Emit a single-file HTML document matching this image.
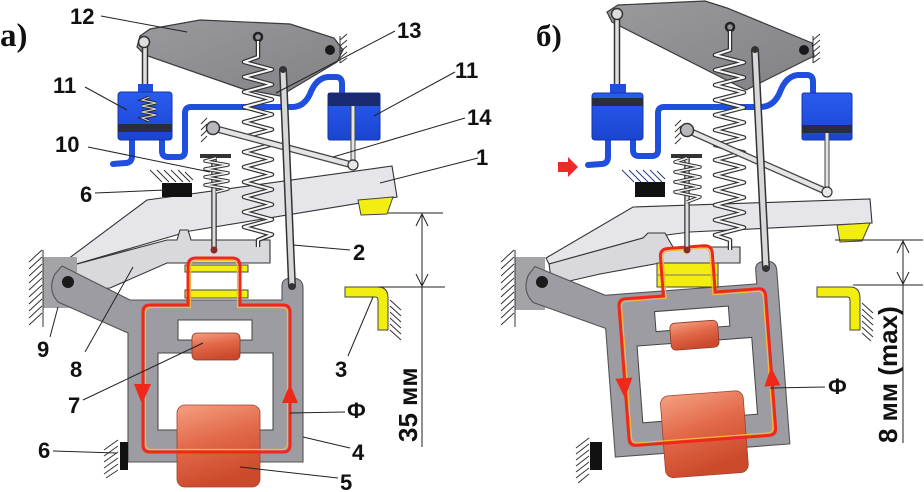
<!DOCTYPE html>
<html><head><meta charset="utf-8"><style>html,body{margin:0;padding:0;background:#fff}svg{display:block}</style></head>
<body>
<svg width="924" height="492" viewBox="0 0 924 492" xmlns="http://www.w3.org/2000/svg">
<defs>
<linearGradient id="coil" x1="0" y1="0" x2="0.3" y2="1">
<stop offset="0" stop-color="#f4a080"/><stop offset="0.5" stop-color="#e2694a"/><stop offset="1" stop-color="#cc4a2c"/>
</linearGradient>
<linearGradient id="plate" x1="0" y1="0" x2="1" y2="1">
<stop offset="0" stop-color="#9a9a9e"/><stop offset="1" stop-color="#828286"/>
</linearGradient>
<linearGradient id="blue" x1="0" y1="0" x2="0" y2="1">
<stop offset="0" stop-color="#2a5cf0"/><stop offset="1" stop-color="#1a44d0"/>
</linearGradient>
</defs>

<!-- ================= PANEL A ================= -->
<text x="0" y="46" font-family="'Liberation Serif',serif" font-weight="bold" font-size="33" fill="#111">а)</text>

<polygon points="140,36 150,29 200,20 290,24 334,38 343,50 337,62 280,96 243,89 145,55 137,47" fill="url(#plate)" stroke="#3a3a3a" stroke-width="1.2"/>
<circle cx="330" cy="50" r="5" fill="#1a1a1a"/>
<g stroke="#333" stroke-width="1">
<line x1="340" y1="36" x2="340" y2="63"/>
<line x1="340" y1="40" x2="347" y2="34"/><line x1="340" y1="46" x2="347" y2="40"/><line x1="340" y1="52" x2="347" y2="46"/><line x1="340" y1="58" x2="347" y2="52"/><line x1="340" y1="63" x2="347" y2="58"/>
</g>

<line x1="145" y1="43" x2="145" y2="118" stroke="#333" stroke-width="6.5" stroke-linecap="round"/>
<line x1="145" y1="43" x2="145" y2="118" stroke="#e0e0e0" stroke-width="3.5" stroke-linecap="round"/>
<circle cx="144" cy="42" r="5.5" fill="#ddd" stroke="#333" stroke-width="1.5"/>

<g fill="none" stroke="#1f4fdc" stroke-width="6" stroke-linecap="round" stroke-linejoin="round">
<path d="M132,138 L132,156 Q132,163 125,163 L113,164"/>
<path d="M162,138 L162,151 Q162,157 168,157 L179,157 Q185,157 185,151 L185,113 Q185,107 191,107 L292,107 Q304,107 310,94 Q316,78 328,77 L336,77 Q342,77 342,84 L342,95"/>
</g>

<rect x="138" y="84" width="15" height="10" fill="#1f4fdc"/>
<rect x="118" y="92" width="54" height="48" rx="3" fill="url(#blue)" stroke="#1436a8" stroke-width="1"/>
<rect x="118" y="124" width="54" height="8" fill="#2a2d40"/>
<polyline points="149,97 142,100 156,103 142,106 156,109 142,112 156,115 142,118 149,121" fill="none" stroke="#222" stroke-width="3"/>
<polyline points="149,97 142,100 156,103 142,106 156,109 142,112 156,115 142,118 149,121" fill="none" stroke="#ccc" stroke-width="1.2"/>

<rect x="328" y="93" width="52" height="47" rx="2" fill="url(#blue)" stroke="#1436a8" stroke-width="1"/>
<rect x="328" y="93" width="52" height="13" fill="#1a2a70"/>
<line x1="353" y1="106" x2="353" y2="162" stroke="#444" stroke-width="5"/>
<line x1="353" y1="106" x2="353" y2="162" stroke="#e4e4e4" stroke-width="3"/>

<polygon points="64,262 147,200 392,166 397,197 190,231 66,267" fill="#e6e6ea" stroke="#333" stroke-width="1.1"/>
<polygon points="358,200 393,197 387,214 361,215" fill="#f2ee10" stroke="#444" stroke-width="1"/>
<polygon points="66,267 167,240 177,240 180,230 188,230 191,240 270,240 270,263 167,263 110,288 70,292" fill="#d9d9dd" stroke="#333" stroke-width="1.1"/>
<rect x="185" y="265" width="63" height="7" fill="#f2ee10" stroke="#444" stroke-width="1"/>

<rect x="43" y="257" width="34" height="51" fill="#a4a4a8"/>
<g stroke="#333" stroke-width="1">
<line x1="43" y1="250" x2="43" y2="327"/>
<line x1="29" y1="262" x2="42" y2="250"/><line x1="29" y1="269" x2="42" y2="257"/><line x1="29" y1="276" x2="42" y2="264"/><line x1="29" y1="283" x2="42" y2="271"/><line x1="29" y1="290" x2="42" y2="278"/><line x1="29" y1="297" x2="42" y2="285"/><line x1="29" y1="304" x2="42" y2="292"/><line x1="29" y1="311" x2="42" y2="299"/><line x1="29" y1="318" x2="42" y2="306"/><line x1="29" y1="325" x2="42" y2="313"/>
</g>

<g>
<path d="M62,266 L130,300 L282,300 L282,286 Q282,278 292,278 Q303,278 303,288 L303,462 L128,462 L128,333 L58,302 Q47,290 55,274 Z" fill="#9c9ca2" stroke="#555" stroke-width="1.1"/>
<rect x="178" y="320" width="74" height="20" fill="#fff" stroke="#444" stroke-width="1"/>
<rect x="158" y="353" width="115" height="77" fill="#fff" stroke="#444" stroke-width="1"/>
<rect x="192" y="333" width="48" height="27" rx="5" fill="url(#coil)" stroke="#8a3a25" stroke-width="0.8"/>
<rect x="177" y="405" width="83" height="82" rx="8" fill="url(#coil)" stroke="#a04030" stroke-width="0.8"/>
<circle cx="68" cy="282" r="6" fill="#1a1a1a"/>
</g>
<rect x="185" y="290" width="63" height="8" fill="#f2ee10" stroke="#444" stroke-width="1"/>

<path d="M143,445 L143,312 Q143,305 150,305 L188,305 L188,266 Q188,258 196,258 L232,258 Q240,258 240,266 L240,305 L283,305 Q290,305 290,312 L290,445 Q290,452 283,452 L150,452 Q143,452 143,445 Z" fill="none" stroke="#f0281a" stroke-width="3"/>
<path d="M145.5,443 L145.5,313 Q145.5,307.5 151,307.5 L190.5,307.5 L190.5,267 Q190.5,260.5 197,260.5 L231,260.5 Q237.5,260.5 237.5,267 L237.5,307.5 L282,307.5 Q287.5,307.5 287.5,313 L287.5,443 Q287.5,449.5 282,449.5 L151,449.5 Q145.5,449.5 145.5,443 Z" fill="none" stroke="#f7b838" stroke-width="1.2"/>
<polygon points="134,384 151,384 142,404" fill="#f0281a"/>
<polygon points="282,403 298,403 290,384" fill="#f0281a"/>

<rect x="120" y="442" width="8" height="28" fill="#111"/>
<g stroke="#333" stroke-width="1">
<line x1="104" y1="450" x2="118" y2="440"/><line x1="104" y1="456" x2="118" y2="446"/><line x1="104" y1="462" x2="118" y2="452"/><line x1="104" y1="468" x2="118" y2="458"/><line x1="104" y1="474" x2="118" y2="464"/><line x1="106" y1="478" x2="118" y2="470"/>
</g>

<path d="M345,287 L378,287 Q388,287 388,298 L388,330 L378,330 L378,300 Q378,297 375,297 L345,297 Z" fill="#f2ee10" stroke="#444" stroke-width="1"/>
<g stroke="#333" stroke-width="1">
<line x1="390" y1="300" x2="401" y2="310"/><line x1="390" y1="306" x2="401" y2="316"/><line x1="390" y1="312" x2="401" y2="322"/><line x1="390" y1="318" x2="401" y2="328"/><line x1="390" y1="324" x2="401" y2="334"/><line x1="390" y1="330" x2="401" y2="340"/>
</g>

<rect x="162" y="183" width="30" height="14" fill="#111"/>
<g stroke="#333" stroke-width="1">
<line x1="150" y1="170" x2="162" y2="182"/><line x1="157" y1="170" x2="169" y2="182"/><line x1="164" y1="170" x2="176" y2="182"/><line x1="171" y1="170" x2="183" y2="182"/><line x1="178" y1="170" x2="190" y2="182"/><line x1="185" y1="172" x2="193" y2="180"/>
</g>

<line x1="214" y1="156" x2="214" y2="249" stroke="#333" stroke-width="5.5"/>
<line x1="214" y1="156" x2="214" y2="249" stroke="#ddd" stroke-width="3"/>
<circle cx="214" cy="250" r="3.5" fill="#8a2a2a"/>
<rect x="200" y="154" width="31" height="4" fill="#333"/>
<polyline points="216,158 205,161 228,165 205,169 228,173 205,177 228,181 205,185 228,189 216,192" fill="none" stroke="#333" stroke-width="3.5" stroke-linejoin="round"/>
<polyline points="216,158 205,161 228,165 205,169 228,173 205,177 228,181 205,185 228,189 216,192" fill="none" stroke="#f4f4f4" stroke-width="1.5" stroke-linejoin="round"/>

<circle cx="258" cy="37" r="4" fill="none" stroke="#222" stroke-width="2.5"/>
<polyline points="258,41 258,57 244,62 272,69.5 244,77 272,84.5 244,92 272,99.5 244,107 272,114.5 244,122 272,129.5 244,137 272,144.5 244,152 272,159.5 244,167 272,174.5 244,182 272,189.5 244,197 272,204.5 244,212 272,219.5 244,227 272,234.5 258,240 258,247" fill="none" stroke="#333" stroke-width="4.5" stroke-linejoin="round"/>
<polyline points="258,41 258,57 244,62 272,69.5 244,77 272,84.5 244,92 272,99.5 244,107 272,114.5 244,122 272,129.5 244,137 272,144.5 244,152 272,159.5 244,167 272,174.5 244,182 272,189.5 244,197 272,204.5 244,212 272,219.5 244,227 272,234.5 258,240 258,247" fill="none" stroke="#f6f6f6" stroke-width="2" stroke-linejoin="round"/>

<line x1="213" y1="128" x2="352" y2="165" stroke="#444" stroke-width="7" stroke-linecap="round"/>
<line x1="213" y1="128" x2="352" y2="165" stroke="#e4e4e4" stroke-width="4.5" stroke-linecap="round"/>
<g stroke="#333" stroke-width="1">
<line x1="201" y1="124" x2="207" y2="118"/><line x1="201" y1="130" x2="207" y2="124"/><line x1="201" y1="136" x2="207" y2="130"/><line x1="201" y1="142" x2="207" y2="136"/>
</g>
<circle cx="213" cy="128" r="6.5" fill="#b8b8bc" stroke="#333" stroke-width="1.5"/>
<circle cx="353" cy="165" r="5" fill="#e8e8e8" stroke="#333" stroke-width="1.2"/>

<line x1="283" y1="70" x2="292" y2="286" stroke="#333" stroke-width="8" stroke-linecap="round"/>
<line x1="283" y1="70" x2="292" y2="286" stroke="#d8d8da" stroke-width="5" stroke-linecap="round"/>
<circle cx="283" cy="70" r="3" fill="#333"/>
<circle cx="292" cy="286" r="3" fill="#333"/>

<g stroke="#222" stroke-width="1" fill="none">
<line x1="388" y1="213" x2="443" y2="213"/>
<line x1="378" y1="287" x2="445" y2="287"/>
<line x1="422" y1="213" x2="422" y2="447"/>
<polyline points="416,226 422,214 428,226"/>
<polyline points="416,274 422,286 428,274"/>
</g>
<text transform="translate(417,442) rotate(-90)" font-family="'Liberation Sans','Noto Sans CJK SC',sans-serif" font-weight="bold" font-size="26" fill="#111">35 мм</text>

<g stroke="#222" stroke-width="1">
<line x1="101" y1="16" x2="187" y2="32"/>
<line x1="395" y1="31" x2="276" y2="93"/>
<line x1="85" y1="87" x2="127" y2="110"/>
<line x1="455" y1="72" x2="374" y2="116"/>
<line x1="465" y1="118" x2="333" y2="157"/>
<line x1="478" y1="158" x2="380" y2="183"/>
<line x1="88" y1="147" x2="210" y2="172"/>
<line x1="95" y1="193" x2="165" y2="190"/>
<line x1="350" y1="250" x2="293" y2="245"/>
<line x1="50" y1="337" x2="58" y2="307"/>
<line x1="85" y1="352" x2="133" y2="267"/>
<line x1="83" y1="400" x2="203" y2="343"/>
<line x1="348" y1="356" x2="373" y2="297"/>
<line x1="345" y1="412" x2="290" y2="413"/>
<line x1="350" y1="448" x2="303" y2="437"/>
<line x1="53" y1="451" x2="117" y2="453"/>
<line x1="338" y1="478" x2="240" y2="467"/>
</g>

<g font-family="'Liberation Sans','Noto Sans CJK SC',sans-serif" font-weight="bold" font-size="22" fill="#111">
<text x="70" y="24">12</text>
<text x="397" y="38">13</text>
<text x="53" y="93">11</text>
<text x="455" y="78">11</text>
<text x="467" y="125">14</text>
<text x="55" y="152">10</text>
<text x="476" y="165">1</text>
<text x="80" y="202">6</text>
<text x="353" y="260">2</text>
<text x="37" y="357">9</text>
<text x="70" y="377">8</text>
<text x="335" y="377">3</text>
<text x="68" y="413">7</text>
<text x="347" y="418">Ф</text>
<text x="352" y="460">4</text>
<text x="38" y="458">6</text>
<text x="340" y="490">5</text>
</g>

<!-- ================= PANEL B ================= -->
<text x="536" y="46" font-family="'Liberation Serif',serif" font-weight="bold" font-size="31" fill="#111">б)</text>

<polygon points="607,12 618,5 705,1 727,8 812,43 814,56 806,60 746,90 612,22" fill="url(#plate)" stroke="#3a3a3a" stroke-width="1.2"/>
<circle cx="804" cy="50" r="5" fill="#1a1a1a"/>
<g stroke="#333" stroke-width="1">
<line x1="813" y1="36" x2="813" y2="63"/>
<line x1="813" y1="40" x2="820" y2="34"/><line x1="813" y1="46" x2="820" y2="40"/><line x1="813" y1="52" x2="820" y2="46"/><line x1="813" y1="58" x2="820" y2="52"/><line x1="813" y1="63" x2="820" y2="58"/>
</g>

<line x1="617" y1="15" x2="617" y2="99" stroke="#333" stroke-width="6.5" stroke-linecap="round"/>
<line x1="617" y1="15" x2="617" y2="99" stroke="#e0e0e0" stroke-width="3.5" stroke-linecap="round"/>
<circle cx="617" cy="14" r="5.5" fill="#ddd" stroke="#333" stroke-width="1.5"/>

<g fill="none" stroke="#1f4fdc" stroke-width="6" stroke-linecap="round" stroke-linejoin="round">
<path d="M608,138 L608,157 Q608,164 601,164 L588,165"/>
<path d="M633,138 L633,150 Q633,156 639,156 L652,156 Q658,156 658,150 L658,113 Q658,107 664,107 L760,107 Q774,107 780,92 Q786,76 798,75 L807,75 Q813,75 813,82 L813,95"/>
</g>
<polygon points="558,162 568,162 568,157 578,167 568,177 568,172 558,172" fill="#f02828"/>

<rect x="610" y="84" width="16" height="10" fill="#1f4fdc"/>
<rect x="592" y="93" width="51" height="47" rx="3" fill="url(#blue)" stroke="#1436a8" stroke-width="1"/>
<rect x="592" y="98" width="51" height="8" fill="#2a2d40"/>

<rect x="802" y="93" width="50" height="47" rx="2" fill="url(#blue)" stroke="#1436a8" stroke-width="1"/>
<rect x="802" y="125" width="50" height="8" fill="#2a2d40"/>
<line x1="827" y1="133" x2="827" y2="188" stroke="#444" stroke-width="5"/>
<line x1="827" y1="133" x2="827" y2="188" stroke="#e4e4e4" stroke-width="3"/>

<polygon points="546,258 633,207 870,199 872,223 690,232 643,238 549,264" fill="#e6e6ea" stroke="#333" stroke-width="1.1"/>
<polygon points="837,225 870,223 862,241 840,242" fill="#f2ee10" stroke="#444" stroke-width="1"/>
<polygon points="549,264 643,238 648,233 665,233 670,242 673,247 740,247 740,263 660,263 600,274 552,285" fill="#d9d9dd" stroke="#333" stroke-width="1.1"/>

<rect x="515" y="257" width="30" height="53" fill="#a4a4a8"/>
<g stroke="#333" stroke-width="1">
<line x1="515" y1="250" x2="515" y2="327"/>
<line x1="501" y1="262" x2="514" y2="250"/><line x1="501" y1="269" x2="514" y2="257"/><line x1="501" y1="276" x2="514" y2="264"/><line x1="501" y1="283" x2="514" y2="271"/><line x1="501" y1="290" x2="514" y2="278"/><line x1="501" y1="297" x2="514" y2="285"/><line x1="501" y1="304" x2="514" y2="292"/><line x1="501" y1="311" x2="514" y2="299"/><line x1="501" y1="318" x2="514" y2="306"/><line x1="501" y1="325" x2="514" y2="313"/>
</g>

<g transform="translate(474,0) rotate(-4.3 68 282)">
<path d="M62,266 L130,300 L282,300 L282,286 Q282,278 292,278 Q303,278 303,288 L303,462 L128,462 L128,333 L58,302 Q47,290 55,274 Z" fill="#9c9ca2" stroke="#555" stroke-width="1.1"/>
<rect x="178" y="320" width="74" height="20" fill="#fff" stroke="#444" stroke-width="1"/>
<rect x="158" y="353" width="115" height="77" fill="#fff" stroke="#444" stroke-width="1"/>
<rect x="192" y="333" width="48" height="27" rx="5" fill="url(#coil)" stroke="#8a3a25" stroke-width="0.8"/>
<rect x="177" y="405" width="83" height="82" rx="8" fill="url(#coil)" stroke="#a04030" stroke-width="0.8"/>
<circle cx="68" cy="282" r="6" fill="#1a1a1a"/>
</g>
<rect x="657" y="263" width="61" height="24" fill="#f2ee10" stroke="#444" stroke-width="1"/>
<line x1="657" y1="275" x2="718" y2="275" stroke="#777" stroke-width="1"/>
<g transform="translate(474,0) rotate(-4.3 68 282)">
<path d="M143,445 L143,312 Q143,305 150,305 L188,305 L188,266 Q188,258 196,258 L232,258 Q240,258 240,266 L240,305 L283,305 Q290,305 290,312 L290,445 Q290,452 283,452 L150,452 Q143,452 143,445 Z" fill="none" stroke="#f0281a" stroke-width="3"/>
<path d="M145.5,443 L145.5,313 Q145.5,307.5 151,307.5 L190.5,307.5 L190.5,267 Q190.5,260.5 197,260.5 L231,260.5 Q237.5,260.5 237.5,267 L237.5,307.5 L282,307.5 Q287.5,307.5 287.5,313 L287.5,443 Q287.5,449.5 282,449.5 L151,449.5 Q145.5,449.5 145.5,443 Z" fill="none" stroke="#f7b838" stroke-width="1.2"/>
<polygon points="134,384 151,384 142,404" fill="#f0281a"/>
<polygon points="282,403 298,403 290,384" fill="#f0281a"/>
</g>

<rect x="590" y="442" width="12" height="28" fill="#111"/>
<g stroke="#333" stroke-width="1">
<line x1="576" y1="448" x2="589" y2="438"/><line x1="576" y1="454" x2="589" y2="444"/><line x1="576" y1="460" x2="589" y2="450"/><line x1="576" y1="466" x2="589" y2="456"/><line x1="576" y1="472" x2="589" y2="462"/><line x1="576" y1="478" x2="589" y2="468"/><line x1="578" y1="483" x2="589" y2="474"/>
</g>

<path d="M817,287 L850,287 Q860,287 860,298 L860,330 L850,330 L850,300 Q850,297 847,297 L817,297 Z" fill="#f2ee10" stroke="#444" stroke-width="1"/>
<g stroke="#333" stroke-width="1">
<line x1="862" y1="303" x2="873" y2="313"/><line x1="862" y1="309" x2="873" y2="319"/><line x1="862" y1="315" x2="873" y2="325"/><line x1="862" y1="321" x2="873" y2="331"/><line x1="862" y1="327" x2="873" y2="337"/><line x1="862" y1="333" x2="871" y2="341"/>
</g>

<rect x="635" y="182" width="30" height="15" fill="#111"/>
<g stroke="#2a3a8a" stroke-width="1">
<line x1="622" y1="170" x2="634" y2="182"/><line x1="629" y1="170" x2="641" y2="182"/><line x1="636" y1="170" x2="648" y2="182"/><line x1="643" y1="170" x2="655" y2="182"/><line x1="650" y1="170" x2="662" y2="182"/><line x1="657" y1="171" x2="665" y2="179"/>
</g>

<line x1="687" y1="156" x2="687" y2="249" stroke="#333" stroke-width="5.5"/>
<line x1="687" y1="156" x2="687" y2="249" stroke="#ddd" stroke-width="3"/>
<circle cx="687" cy="250" r="3.5" fill="#8a2a2a"/>
<rect x="671" y="154" width="31" height="4" fill="#333"/>
<polyline points="687,158 675,162 700,167 675,172 700,177 675,182 700,187 675,192 700,197 687,202" fill="none" stroke="#333" stroke-width="3.5" stroke-linejoin="round"/>
<polyline points="687,158 675,162 700,167 675,172 700,177 675,182 700,187 675,192 700,197 687,202" fill="none" stroke="#f4f4f4" stroke-width="1.5" stroke-linejoin="round"/>

<circle cx="730" cy="27" r="4" fill="none" stroke="#222" stroke-width="2.5"/>
<polyline points="730,31 730,50 715,55 744,62.5 715,70 744,77.5 715,85 744,92.5 715,100 744,107.5 715,115 744,122.5 715,130 744,137.5 715,145 744,152.5 715,160 744,167.5 715,175 744,182.5 715,190 744,197.5 715,205 744,212.5 715,220 744,227.5 715,235 730,240 730,250" fill="none" stroke="#333" stroke-width="4.5" stroke-linejoin="round"/>
<polyline points="730,31 730,50 715,55 744,62.5 715,70 744,77.5 715,85 744,92.5 715,100 744,107.5 715,115 744,122.5 715,130 744,137.5 715,145 744,152.5 715,160 744,167.5 715,175 744,182.5 715,190 744,197.5 715,205 744,212.5 715,220 744,227.5 715,235 730,240 730,250" fill="none" stroke="#f6f6f6" stroke-width="2" stroke-linejoin="round"/>

<line x1="687" y1="130" x2="825" y2="191" stroke="#444" stroke-width="7" stroke-linecap="round"/>
<line x1="687" y1="130" x2="825" y2="191" stroke="#e4e4e4" stroke-width="4.5" stroke-linecap="round"/>
<g stroke="#333" stroke-width="1">
<line x1="675" y1="126" x2="681" y2="120"/><line x1="675" y1="132" x2="681" y2="126"/><line x1="675" y1="138" x2="681" y2="132"/><line x1="675" y1="144" x2="681" y2="138"/>
</g>
<circle cx="687" cy="130" r="6.5" fill="#b8b8bc" stroke="#333" stroke-width="1.5"/>
<circle cx="827" cy="192" r="5" fill="#e8e8e8" stroke="#333" stroke-width="1.2"/>

<line x1="755" y1="50" x2="766" y2="268" stroke="#333" stroke-width="8" stroke-linecap="round"/>
<line x1="755" y1="50" x2="766" y2="268" stroke="#d8d8da" stroke-width="5" stroke-linecap="round"/>
<circle cx="755" cy="50" r="3" fill="#333"/>
<circle cx="766" cy="268" r="3" fill="#333"/>

<g stroke="#222" stroke-width="1" fill="none">
<line x1="835" y1="240" x2="923" y2="240"/>
<line x1="853" y1="285" x2="923" y2="285"/>
<line x1="903" y1="240" x2="903" y2="443"/>
<polyline points="897,253 903,241 909,253"/>
<polyline points="897,272 903,284 909,272"/>
</g>
<text transform="translate(897,443) rotate(-90)" font-family="'Liberation Sans','Noto Sans CJK SC',sans-serif" font-weight="bold" font-size="26" fill="#111">8 мм (max)</text>

<line x1="825" y1="387" x2="770" y2="388" stroke="#222" stroke-width="1"/>
<text x="828" y="394" font-family="'Liberation Sans','Noto Sans CJK SC',sans-serif" font-weight="bold" font-size="22" fill="#111">Ф</text>
</svg>
</body></html>
